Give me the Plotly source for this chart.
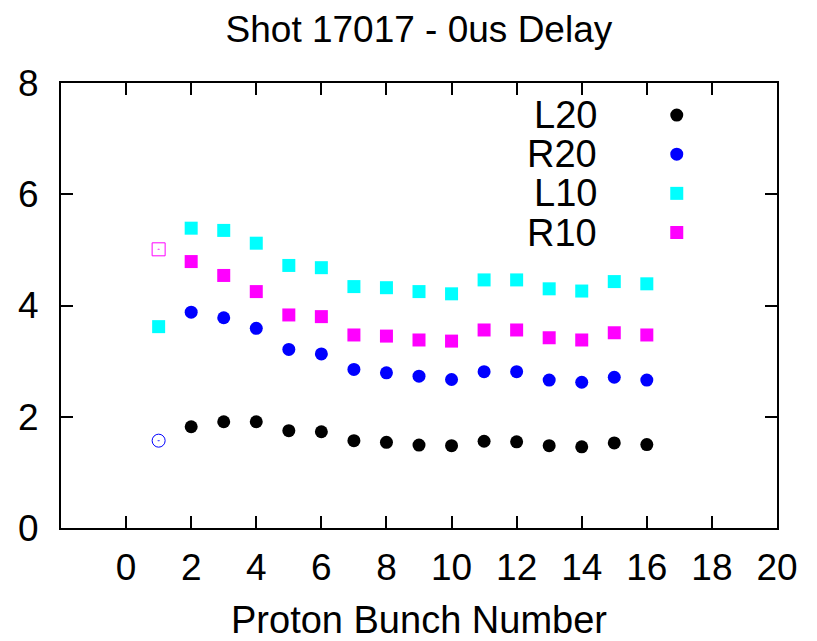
import plotly.graph_objects as go

# bunch numbers
bunch = [2, 3, 4, 5, 6, 7, 8, 9, 10, 11, 12, 13, 14, 15, 16]
bunch_l10 = [1] + bunch

L20 = [1.82, 1.91, 1.91, 1.75, 1.73, 1.57, 1.54, 1.49, 1.48, 1.56, 1.55, 1.48, 1.46, 1.53, 1.50]
R20 = [3.88, 3.78, 3.59, 3.21, 3.13, 2.85, 2.79, 2.73, 2.67, 2.81, 2.81, 2.66, 2.62, 2.71, 2.66]
L10 = [3.62, 5.39, 5.35, 5.12, 4.72, 4.68, 4.34, 4.32, 4.25, 4.21, 4.46, 4.46, 4.30, 4.26, 4.43, 4.39]
R10 = [4.79, 4.54, 4.25, 3.83, 3.80, 3.47, 3.45, 3.38, 3.36, 3.56, 3.56, 3.42, 3.38, 3.51, 3.47]

# first bunch drawn with open symbols
first_x = [1]
first_circle = [1.57]
first_square = [5.01]

names = ["L20", "R20", "L10", "R10"]
colors = ["black", "#0000ff", "#00ffff", "#ff00ff"]
symbols = ["circle", "circle", "square", "square"]

FONT = "Liberation Sans, Arial, sans-serif"
FS = 38

fig = go.Figure()
series = [(bunch, L20), (bunch, R20), (bunch_l10, L10), (bunch, R10)]
for (xs, ys), c, s in zip(series, colors, symbols):
    fig.add_trace(go.Scatter(x=xs, y=ys, mode="markers",
                             marker=dict(color=c, symbol=s, size=13, line=dict(width=0)),
                             showlegend=False))

fig.add_trace(go.Scatter(x=first_x, y=first_circle, mode="markers",
                         marker=dict(color="#0000ff", symbol="circle-open-dot", size=13,
                                     line=dict(width=1, color="#0000ff")),
                         showlegend=False))
fig.add_trace(go.Scatter(x=first_x, y=first_square, mode="markers",
                         marker=dict(color="#ff00ff", symbol="square-open-dot", size=13,
                                     line=dict(width=1, color="#ff00ff")),
                         showlegend=False))

# gnuplot style key: text on the left, symbol on the right
key_y = [0.928, 0.84, 0.752, 0.664]
for name, c, s, ky in zip(names, colors, symbols, key_y):
    fig.add_annotation(text=name, xref="paper", yref="paper", x=0.752, y=ky,
                       xanchor="right", yanchor="middle", showarrow=False,
                       font=dict(size=FS, color="black", family=FONT))
    fig.add_shape(type="circle" if s == "circle" else "rect",
                  xref="paper", yref="paper", xsizemode="pixel", ysizemode="pixel",
                  xanchor=0.86, yanchor=ky, x0=-6.5, x1=6.5, y0=-6.5, y1=6.5,
                  fillcolor=c, line=dict(width=0))

# x axis title as a plain annotation (standoff is ignored without automargin)
fig.add_annotation(text="Proton Bunch Number", xref="paper", yref="paper",
                   x=0.5, y=-0.206, xanchor="center", yanchor="middle",
                   showarrow=False, font=dict(size=FS, color="black", family=FONT))

axis_common = dict(showgrid=False, zeroline=False, showline=True, linecolor="black",
                   linewidth=2, mirror="allticks", ticks="inside", ticklen=12,
                   tickwidth=1.5, tickcolor="black", automargin=False,
                   tickfont=dict(size=37, color="black", family=FONT))

# page body has an 8px margin, so the figure is a bit smaller than the window
fig.update_layout(
    width=801, height=633,
    margin=dict(l=53, r=32, t=75, b=113),
    paper_bgcolor="white", plot_bgcolor="white",
    title=dict(text="Shot 17017 - 0us Delay", x=0.513, xanchor="center",
               y=0.967, yanchor="middle",
               font=dict(size=37, color="black", family=FONT)),
    xaxis=dict(range=[-2, 20], tickvals=list(range(0, 21, 2)), ticklabelstandoff=6,
               **axis_common),
    yaxis=dict(range=[0, 8], tickvals=[0, 2, 4, 6, 8], ticklabelstandoff=13,
               **axis_common),
)

fig.write_html("out.html")
